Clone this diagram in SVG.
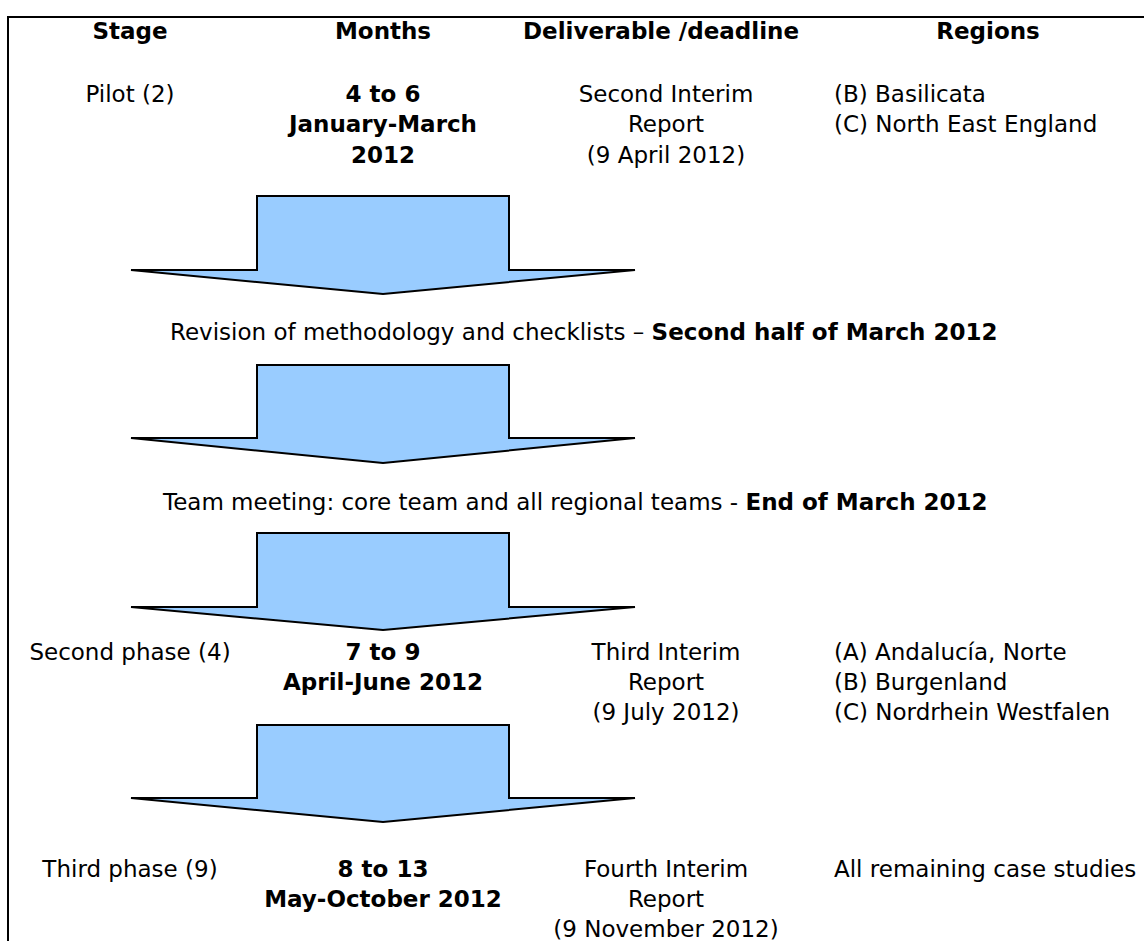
<svg xmlns="http://www.w3.org/2000/svg" width="1144" height="941" viewBox="0 0 1144 941">
<style>
text{font-family:"DejaVu Sans","Liberation Sans",sans-serif;font-size:23px;fill:#000}
.b{font-weight:bold}
.c{text-anchor:middle}
.arrow{fill:#99ccff;stroke:#000;stroke-width:2;stroke-linejoin:miter}
</style>
<rect width="1144" height="941" fill="#fff"/>
<path d="M8,950 V17 H1150" fill="none" stroke="#000" stroke-width="2"/>
<g id="header">
<text class="b c" x="130" y="39">Stage</text>
<text class="b c" x="383" y="39">Months</text>
<text class="b c" x="661" y="39">Deliverable /deadline</text>
<text class="b c" x="988" y="39">Regions</text>
</g>
<g id="pilot">
<text class="c" x="130" y="102">Pilot (2)</text>
<text class="b c" x="383" y="102">4 to 6</text>
<text class="b c" x="383" y="132">January-March</text>
<text class="b c" x="383" y="163">2012</text>
<text class="c" x="666" y="102">Second Interim</text>
<text class="c" x="666" y="132">Report</text>
<text class="c" x="666" y="163">(9 April 2012)</text>
<text x="834" y="102">(B) Basilicata</text>
<text x="834" y="132">(C) North East England</text>
</g>
<g id="revision">
<text x="170" y="340">Revision of methodology and checklists – <tspan class="b">Second half of March 2012</tspan></text>
</g>
<g id="meeting">
<text x="163" y="510">Team meeting: core team and all regional teams - <tspan class="b">End of March 2012</tspan></text>
</g>
<g id="second">
<text class="c" x="130" y="660">Second phase (4)</text>
<text class="b c" x="383" y="660">7 to 9</text>
<text class="b c" x="383" y="690">April-June 2012</text>
<text class="c" x="666" y="660">Third Interim</text>
<text class="c" x="666" y="690">Report</text>
<text class="c" x="666" y="720">(9 July 2012)</text>
<text x="834" y="660">(A) Andalucía, Norte</text>
<text x="834" y="690">(B) Burgenland</text>
<text x="834" y="720">(C) Nordrhein Westfalen</text>
</g>
<g id="third">
<text class="c" x="130" y="877">Third phase (9)</text>
<text class="b c" x="383" y="877">8 to 13</text>
<text class="b c" x="383" y="907">May-October 2012</text>
<text class="c" x="666" y="877">Fourth Interim</text>
<text class="c" x="666" y="907">Report</text>
<text class="c" x="666" y="937">(9 November 2012)</text>
<text x="834" y="877">All remaining case studies</text>
</g>
<g id="connectors">
<path class="arrow" d="M257,196 H509 V270 H635 L383,294 L131,270 H257 Z"/>
<path class="arrow" d="M257,365 H509 V438 H635 L383,463 L131,438 H257 Z"/>
<path class="arrow" d="M257,533 H509 V607 H635 L383,630 L131,607 H257 Z"/>
<path class="arrow" d="M257,725 H509 V798 H635 L383,822 L131,798 H257 Z"/>
</g>
</svg>
